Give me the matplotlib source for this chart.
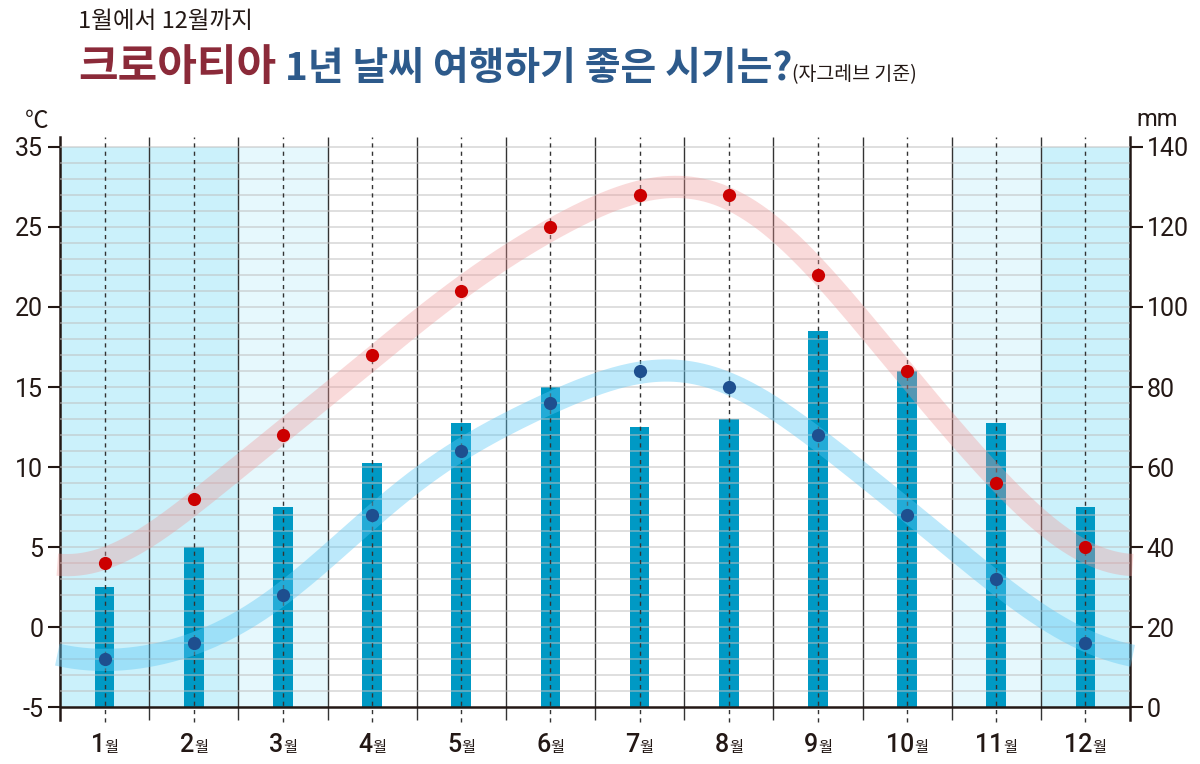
import numpy as np
import matplotlib
matplotlib.use("Agg")
import matplotlib.pyplot as plt
from matplotlib.offsetbox import TextArea, HPacker, AnnotationBbox

plt.rcParams["font.family"] = ["Noto Sans CJK KR", "DejaVu Sans"]

# ---------------------------------------------------------------------------
# data
# ---------------------------------------------------------------------------
months = np.arange(1, 13)
temp_high = [4, 8, 12, 17, 21, 25, 27, 27, 22, 16, 9, 5]        # 최고기온 (℃)
temp_low = [-2, -1, 2, 7, 11, 14, 16, 15, 12, 7, 3, -1]         # 최저기온 (℃)
rain_mm = [30, 40, 50, 61, 71, 80, 70, 72, 94, 84, 71, 50]      # 강수량 (mm)
shade = ["#cbf1fb", "#cbf1fb", "#e6f8fd", None, None, None,
         None, None, None, None, "#e6f8fd", "#cbf1fb"]
left_ticks = [-5, 0, 5, 10, 15, 20, 25, 30]
left_labels = ["-5", "0", "5", "10", "15", "20", "25", "35"]
right_ticks = [0, 20, 40, 60, 80, 100, 120, 140]

T_LO, T_HI = -6.0, 30.6
INK = "#231815"


def c2mm(t):
    return (np.asarray(t) + 5) * 4


def periodic_smooth(vals, x, n_harm=4):
    # 12개월을 한 주기로 보고 저차 푸리에 성분만 남겨 부드러운 곡선
    v = np.asarray(vals, float)
    n = len(v)
    c = np.fft.rfft(v) / n
    t = (np.asarray(x) - 1) * 2 * np.pi / n
    out = np.full_like(t, c[0].real)
    for h in range(1, n_harm + 1):
        out += 2 * (c[h].real * np.cos(h * t) - c[h].imag * np.sin(h * t))
    return out


fig = plt.figure(figsize=(12, 7.64), dpi=100)
ax = fig.add_axes([0.05, 0.05366, 0.89167, 0.7665])
ax2 = ax.twinx()
ax3 = ax.twinx()

for a in (ax, ax2, ax3):
    a.set_xlim(0.5, 12.5)
ax.set_ylim(T_LO, T_HI)
ax3.set_ylim(T_LO, T_HI)
ax2.set_ylim(c2mm(T_LO), c2mm(T_HI))

# --- layer 1: background shading + month boundaries
for m, col in zip(months, shade):
    if col:
        ax.fill_between([m - 0.5, m + 0.5], -5, 30, color=col, lw=0)
ax.vlines(np.arange(1.5, 12.5), -5.8, T_HI, color="#333333", lw=1)

# --- layer 2: precipitation bars
ax2.bar(months, rain_mm, width=0.22, color="#0099c4", zorder=2)

# --- layer 3: grid, dashed guides, smooth bands, dots
ax3.hlines(np.arange(-4, 31), 0.5, 12.5, color="#bebebe", alpha=0.5, lw=1.4)
ax3.vlines(months, -5.95, T_HI, color="#333333", lw=1, linestyles=(0, (3, 3)))
ax3.hlines(-5, 0.5, 12.5, color=INK, lw=1.8, zorder=5)

xs = np.linspace(0.47, 12.53, 400)
ax3.plot(xs, periodic_smooth(temp_high, xs), color="#f09696", alpha=0.35,
         lw=16, solid_capstyle="butt", clip_on=False)
ax3.plot(xs, periodic_smooth(temp_low, xs), color="#5ac8f5", alpha=0.4,
         lw=16, solid_capstyle="butt", clip_on=False)
ax3.plot(months, temp_high, "o", color="#cc0000", ms=9.5, mec="none", zorder=6)
ax3.plot(months, temp_low, "o", color="#1e4f8f", ms=9.5, mec="none", zorder=6)

# month labels: 큰 숫자 + 작은 '월'
for m in months:
    pack = HPacker(children=[
        TextArea(str(m), textprops=dict(fontsize=18, family="Roboto",
                                        weight="medium", color=INK)),
        TextArea("월", textprops=dict(fontsize=11, weight="medium", color=INK))],
        align="baseline", pad=0, sep=0)
    ab = AnnotationBbox(pack, (m, -5), xybox=(0, -27), boxcoords="offset points",
                        box_alignment=(0.5, 0.5), frameon=False, pad=0,
                        annotation_clip=False)
    ax3.add_artist(ab)

# --- axes cosmetics
ax3.set_axis_off()
ax.set_xticks([])
for s in ("top", "bottom", "right"):
    ax.spines[s].set_visible(False)
for s in ("top", "bottom", "left"):
    ax2.spines[s].set_visible(False)
ax.spines["left"].set_color(INK); ax.spines["left"].set_linewidth(1.8)
ax.spines["left"].set_bounds(-5.8, T_HI)
ax2.spines["right"].set_color(INK); ax2.spines["right"].set_linewidth(1.8)
ax2.spines["right"].set_bounds(c2mm(-5.8), c2mm(T_HI))

ax.set_yticks(left_ticks, left_labels)
ax2.set_yticks(right_ticks, [str(v) for v in right_ticks])
for a in (ax, ax2):
    a.tick_params(axis="y", length=9, width=1.5, color=INK, pad=3,
                  labelsize=18, labelcolor=INK)
    for lab in a.get_yticklabels():
        lab.set_family("Roboto")

fig.text(37 / 1200, 1 - 121 / 764, "℃", fontsize=17, color=INK,
         ha="center", va="center")
fig.text(1157 / 1200, 1 - 119 / 764, "mm", fontsize=17, color=INK,
         ha="center", va="center", family="Roboto")

# --- titles
fig.text(0.065, 1 - 28 / 764, "1월에서 12월까지", fontsize=17, color=INK,
         va="baseline")
title = HPacker(children=[
    TextArea("크로아티아", textprops=dict(fontsize=31, weight=900, color="#8b2a39")),
    TextArea(" 1년 날씨 여행하기 좋은 시기는?",
             textprops=dict(fontsize=28, weight=900, color="#2d5a8b")),
    TextArea("(자그레브 기준)", textprops=dict(fontsize=14, color=INK))],
    align="baseline", pad=0, sep=0)
fig.add_artist(AnnotationBbox(title, (0.065, 1 - 89 / 764), xycoords="figure fraction",
                              box_alignment=(0, 0), frameon=False, pad=0))

fig.savefig("out.png", dpi=100, facecolor="white")
